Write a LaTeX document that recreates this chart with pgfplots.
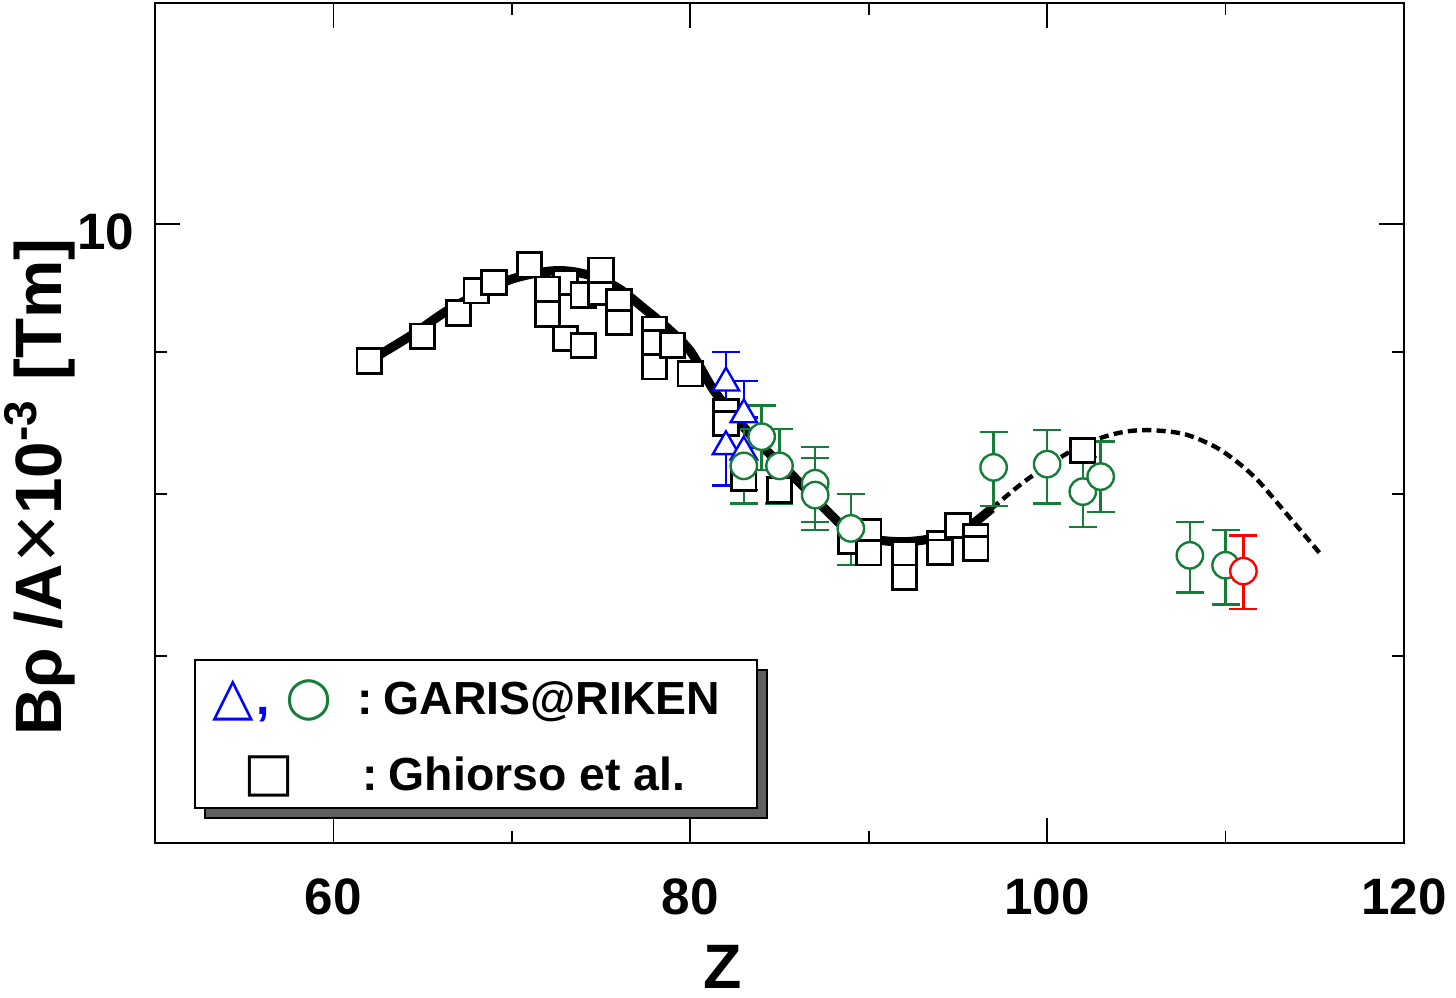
\documentclass[border=0pt]{standalone}
\usepackage{fontspec}
\setmainfont{Liberation Sans}
\newfontfamily\dejavu{DejaVu Sans}
\usepackage{pgfplots}
\pgfplotsset{compat=1.18}
\usepackage{pgfplotstable}
\definecolor{garisgreen}{RGB}{20,125,55}
\definecolor{shadowgray}{RGB}{95,95,95}

\pgfplotstableread{
x y
62.0 8.931
64.3 9.116
66.35 9.307
68.3 9.450
70.1 9.560
72.0 9.616
73.3 9.616
74.75 9.568
76.05 9.476
77.35 9.333
78.7 9.180
80.0 9.004
81.3 8.72
82.5 8.53
83.7 8.36
85.6 8.141
88.2 7.831
89.15 7.747
90.6 7.704
92.1 7.694
93.6 7.715
95.3 7.768
96.9 7.908
}\curvesolid

\pgfplotstableread{
x y
96.9 7.908
98.85 8.096
101.3 8.288
103.0 8.381
104.5 8.427
106.0 8.434
107.8 8.404
109.7 8.300
111.6 8.118
113.4 7.876
115.3 7.619
}\curvedash

\pgfplotstableread{
x y
62 8.931
65 9.115
67 9.292
68 9.463
69 9.529
73 9.529
71 9.669
72 9.476
72 9.282
73 9.099
74 9.045
74 9.431
75 9.453
75 9.626
76 9.377
76 9.218
78 9.168
78 9.069
78 8.888
79 9.047
80 8.837
82 8.565
82 8.481
83 8.107
85 8.029
89 7.698
90 7.760
90 7.625
92 7.614
92 7.472
94 7.681
94 7.627
95 7.798
96 7.728
96 7.651
102 8.294
}\ghiorso

\pgfplotstableread{
x y ep em
82 8.771 0.225 0.220
83 8.544 0.239 0.230
82 8.322 0.243 0.264
83 8.286 0.237 0.257
}\garisblue

\pgfplotstableread{
x y ep em
83 8.190 0.255 0.249
85 8.190 0.255 0.249
84 8.390 0.220 0.227
87 8.074 0.244 0.253
87 7.996 0.248 0.228
89 7.779 0.224 0.233
97 8.180 0.241 0.256
100 8.202 0.236 0.261
102 8.018 0.233 0.229
103 8.118 0.239 0.232
108 7.608 0.213 0.231
110 7.546 0.222 0.240
}\garisgreen

\pgfplotstableread{
x y ep em
111 7.510 0.225 0.230
}\garisred

\begin{document}
\begin{tikzpicture}
\begin{axis}[
  at={(0,0)}, anchor=south west,
  scale only axis, width=312.25pt, height=210pt,
  xmin=50, xmax=120, ymin=6, ymax=12, ymode=log,
  xtick={60,80,100,120}, xticklabels={60,80,100,120},
  minor xtick={70,90,110},
  ytick={10}, yticklabels={10},
  minor ytick={7,8,9},
  tick align=inside,
  major tick length=6.25pt, minor tick length=3pt,
  every tick/.style={black, line width=0.45pt},
  axis line style={line width=0.7pt},
  ticklabel style={font=\fontsize{12.8}{13}\selectfont\bfseries, inner sep=0pt},
  xticklabel style={yshift=-8.75pt},
  yticklabel style={xshift=-5pt, yshift=-2pt},
]
\addplot[black, line width=2.3pt, smooth, no marks] table {\curvesolid};
\addplot[black, line width=1.1pt, dash pattern=on 2.3pt off 1.3pt, smooth, no marks] table {\curvedash};
\addplot[only marks, mark=square*, mark size=3.05pt,
  mark options={draw=black, fill=white, line width=0.7pt}] table {\ghiorso};
\addplot[blue, only marks, mark=triangle*, mark size=3.8pt,
  mark options={draw=blue, fill=white, line width=0.6pt},
  error bars/.cd, y dir=both, y explicit,
  error bar style={line width=0.6pt},
  error mark options={rotate=90, mark size=3.5pt, line width=0.6pt}]
  table[x=x, y=y, y error plus=ep, y error minus=em] {\garisblue};
\addplot[garisgreen, only marks, mark=*, mark size=3.3pt,
  mark options={draw=garisgreen, fill=white, line width=0.6pt},
  error bars/.cd, y dir=both, y explicit,
  error bar style={line width=0.6pt},
  error mark options={rotate=90, mark size=3.5pt, line width=0.6pt}]
  table[x=x, y=y, y error plus=ep, y error minus=em] {\garisgreen};
\addplot[red, only marks, mark=*, mark size=3.3pt,
  mark options={draw=red, fill=white, line width=0.6pt},
  error bars/.cd, y dir=both, y explicit,
  error bar style={line width=0.6pt},
  error mark options={rotate=90, mark size=3.5pt, line width=0.6pt}]
  table[x=x, y=y, y error plus=ep, y error minus=em] {\garisred};
\end{axis}

% legend box with shadow
\draw[line width=0.4pt, fill=shadowgray] (12.5pt,6.25pt) rectangle (153pt,43.25pt);
\draw[line width=0.5pt, fill=white] (10pt,8.75pt) rectangle (150.5pt,45.75pt);
\node[anchor=base west, inner sep=0pt, blue, font=\fontsize{13.5}{13.5}\dejavu] at (14.3pt,32.25pt) {△};
\node[anchor=base west, inner sep=0pt, blue, font=\fontsize{12}{12}\selectfont\bfseries] at (25.2pt,32.25pt) {,};
\node[anchor=base west, inner sep=0pt, garisgreen, font=\fontsize{13.5}{13.5}\dejavu] at (32.5pt,32.25pt) {○};
\node[anchor=base west, inner sep=0pt, font=\fontsize{11.6}{12}\selectfont\bfseries] at (50.5pt,32.25pt) {:};
\node[anchor=base west, inner sep=0pt, font=\fontsize{11.6}{12}\selectfont\bfseries] at (57pt,32.25pt) {GARIS@RIKEN};
\node[anchor=base west, inner sep=0pt, font=\fontsize{13.5}{13.5}\dejavu] at (22pt,13.25pt) {□};
\node[anchor=base west, inner sep=0pt, font=\fontsize{11.6}{12}\selectfont\bfseries] at (51.75pt,13.25pt) {:};
\node[anchor=base west, inner sep=0pt, font=\fontsize{11.6}{12}\selectfont\bfseries] at (58.25pt,13.25pt) {Ghiorso et al.};

% axis labels
\node[anchor=base, inner sep=0pt, font=\fontsize{15.7}{16}\selectfont\bfseries] at (142pt,-36.25pt) {Z};
\node[rotate=90, anchor=base, inner sep=0pt, font=\fontsize{16.4}{17}\selectfont\bfseries] at (-23.25pt,89pt) {Bρ /A\raisebox{-0.6pt}{\fontsize{21}{21}\selectfont\mdseries ×}10\textsuperscript{-3} [Tm]};

\pgfresetboundingbox
\path[use as bounding box] (-38.75pt,-38.5pt) rectangle (325.25pt,210.75pt);
\end{tikzpicture}
\end{document}
